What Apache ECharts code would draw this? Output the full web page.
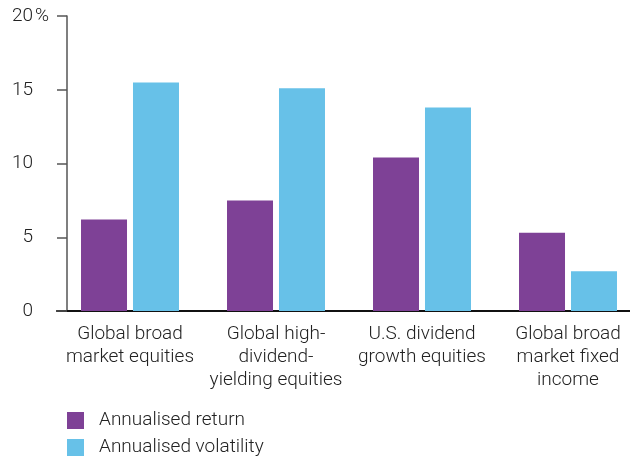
<!DOCTYPE html>
<html><head><meta charset="utf-8">
<script src="https://cdn.jsdelivr.net/npm/echarts@6/dist/echarts.min.js"></script>
<style>html,body{margin:0;padding:0;background:#fff}#c{width:630px;height:459px}</style>
</head><body><div id="c"></div>
<script>
const categories = ["Global broad\nmarket equities", "Global high-\ndividend-\nyielding equities", "U.S. dividend\ngrowth equities", "Global broad\nmarket fixed\nincome"];
const annualisedReturn = [6.2, 7.5, 10.4, 5.3];
const annualisedVolatility = [15.5, 15.1, 13.8, 2.7];
const yTicks = [0, 5, 10, 15, 20];
const seriesNames = ["Annualised return", "Annualised volatility"];
const unitLabel = "%";

const FONT = 'Roboto';
const TXT = {fontFamily: FONT, fontSize: 19, color: '#222', fontWeight: 300};
const yMax = yTicks[yTicks.length - 1];
const legendCommon = {
  orient: 'vertical', left: 67, itemWidth: 17, itemHeight: 17, padding: 0,
  icon: 'rect', textStyle: Object.assign({}, TXT, {padding: [0, 0, 0, 10]})
};
const chart = echarts.init(document.getElementById('c'), null, {renderer: 'canvas'});
chart.setOption({
  animation: false,
  grid: {left: 57, top: 16, width: 584, height: 295, containLabel: false, outerBoundsMode: 'none'},
  legend: [
    Object.assign({top: 411, data: [seriesNames[0]]}, legendCommon),
    Object.assign({top: 438, data: [seriesNames[1]]}, legendCommon)
  ],
  xAxis: {
    type: 'category', data: categories,
    axisLine: {lineStyle: {color: '#111', width: 2}},
    axisTick: {show: false},
    axisLabel: Object.assign({lineHeight: 23, margin: 12, interval: 0}, TXT)
  },
  yAxis: [{
    type: 'value', min: yTicks[0], max: yMax, interval: 5, offset: -10,
    axisLine: {show: true, lineStyle: {color: '#555', width: 1.5}},
    axisTick: {show: true, length: 10, lineStyle: {color: '#555', width: 1.5}},
    splitLine: {show: false},
    axisLabel: Object.assign({margin: 34}, TXT)
  }, {
    type: 'value', position: 'left', min: yTicks[0], max: yMax, interval: 5, offset: -10,
    axisLine: {show: false}, axisTick: {show: false}, splitLine: {show: false},
    axisLabel: Object.assign({margin: 32, align: 'left',
      formatter: v => v === yMax ? unitLabel : ''}, TXT)
  }],
  series: [
    {name: seriesNames[0], type: 'bar', data: annualisedReturn, barWidth: 46, barGap: '13%', itemStyle: {color: '#7E4196'}},
    {name: seriesNames[1], type: 'bar', data: annualisedVolatility, barWidth: 46, barGap: '13%', itemStyle: {color: '#67C1E8'}}
  ]
});
</script></body></html>
